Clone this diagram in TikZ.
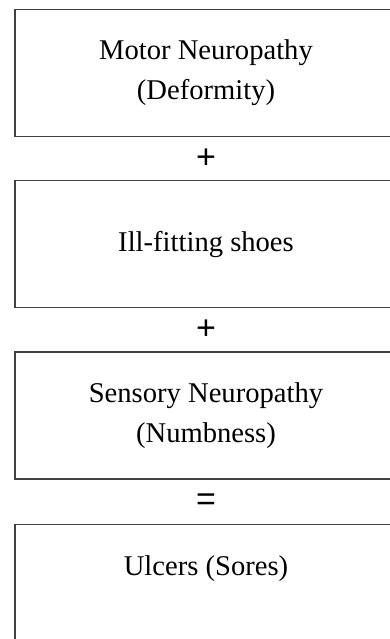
\documentclass[tikz,border=0pt]{standalone}
\usepackage{fontspec}
\setmainfont{Liberation Serif}
\newfontfamily\opfont{Liberation Sans}
\usetikzlibrary{positioning}

\tikzset{
  stage/.style={draw=black!75, line width=1.3pt, minimum width=382pt, minimum height=127pt,
    align=center, font=\fontsize{28.6}{40}\selectfont},
  stagetext/.style={align=center, font=\fontsize{28.6}{40}\selectfont, inner sep=0pt},
  op/.style={inner sep=0pt, font=\opfont\fontsize{34}{36}\selectfont}
}

\begin{document}
\begin{tikzpicture}[x=1pt, y=-1pt]
  % Rahmen
  \useasboundingbox (0,0) rectangle (390,639);
  \clip (0,0) rectangle (390,639);

  % Kasten
  \node[stage] (motor) at (206,73) {Motor Neuropathy\\(Deformity)};
  \node[stage, below=43pt of motor] (shoes) {Ill-fitting shoes};
  \node[stage, below=43pt of shoes] (sensory) {Sensory Neuropathy\\(Numbness)};
  \node[stage, below=44pt of sensory, minimum height=150pt] (ulcer) {};
  \node[stagetext, below=32pt of ulcer.north] (ulcertext) {Ulcers (Sores)};

  % Zeichen
  \path (motor.south) -- (shoes.north) node[op, midway] (plusA) {+};
  \path (shoes.south) -- (sensory.north) node[op, midway] (plusB) {+};
  \path (sensory.south) -- (ulcer.north) node[op, midway] (equals) {=};
\end{tikzpicture}
\end{document}
